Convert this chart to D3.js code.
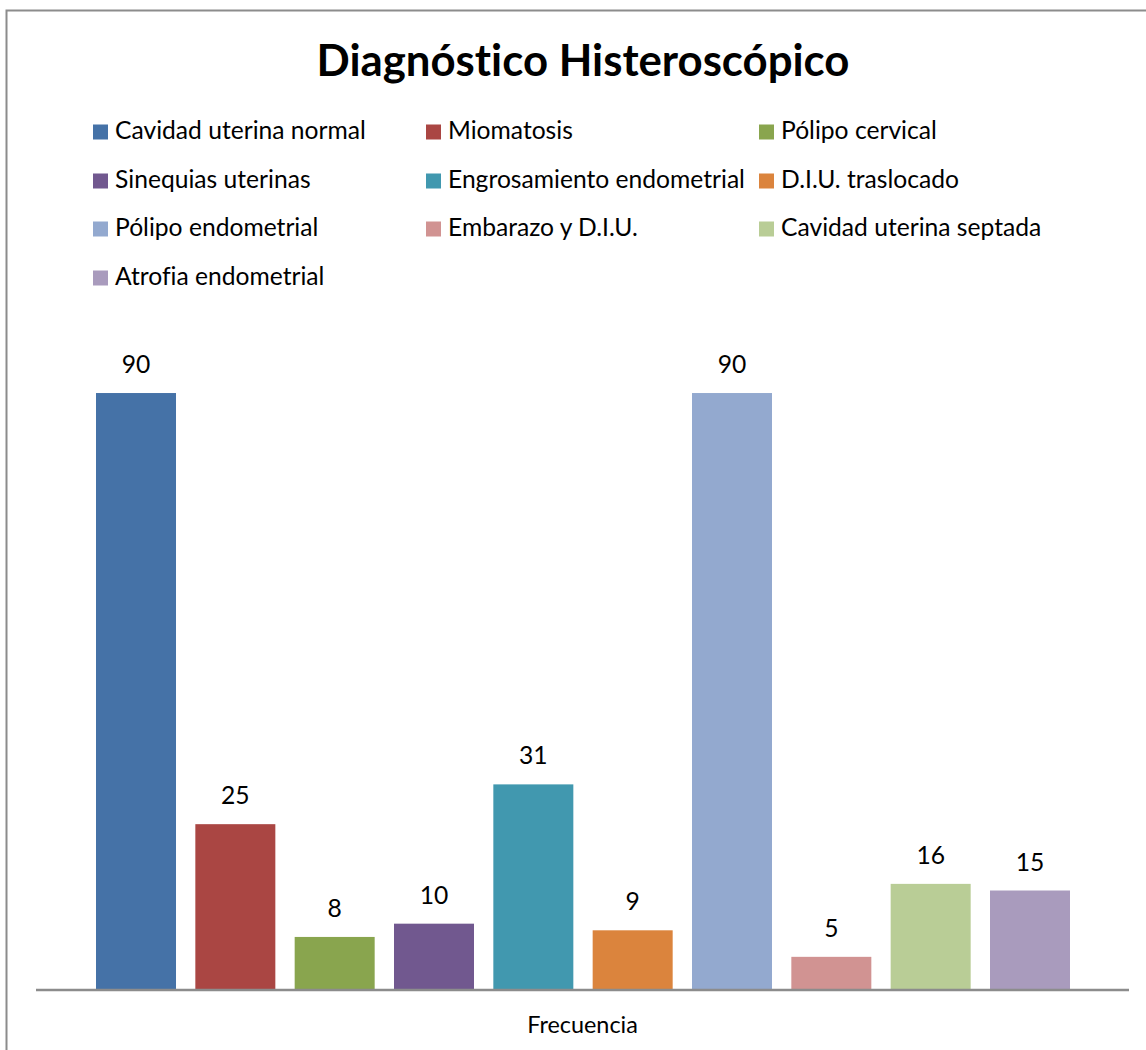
<!DOCTYPE html>
<html><head><meta charset="utf-8">
<script src="https://cdn.jsdelivr.net/npm/d3@7"></script>
<style>body{margin:0;background:#fff}svg{display:block}text{font-family:Lato,"Open Sans",sans-serif;fill:#000;font-variant-ligatures:none}</style>
</head><body>
<script>
const title = "Diagnóstico Histeroscópico";
const categoryLabel = "Frecuencia";
const seriesNames = ["Cavidad uterina normal","Miomatosis","Pólipo cervical","Sinequias uterinas","Engrosamiento endometrial","D.I.U. traslocado","Pólipo endometrial","Embarazo y D.I.U.","Cavidad uterina septada","Atrofia endometrial"];
const seriesValues = [90,25,8,10,31,9,90,5,16,15];
const seriesColors = ["#4572A7","#AA4643","#89A54E","#71588F","#4198AF","#DB843D","#93A9CF","#D19392","#B9CD96","#A99BBD"];

const W = 1146, H = 1050;
const svg = d3.select("body").append("svg").attr("width", W).attr("height", H);

// outer chart border
svg.append("rect").attr("x", 6.5).attr("y", 10.5).attr("width", W + 10).attr("height", H + 10)
  .attr("fill", "#fff").attr("stroke", "#8c8c8c").attr("stroke-width", 2);

function fitText(sel, targetWidth, baseSize) {
  const node = sel.node();
  const w = node.getComputedTextLength();
  if (w > 0) sel.attr("font-size", baseSize * targetWidth / w);
}

// title
const t = svg.append("text").attr("x", 583).attr("y", 76).attr("text-anchor", "middle")
  .attr("font-weight", "bold").attr("font-size", 40).text(title);
fitText(t, 533, 40);

// legend
const legCols = [93, 426, 759], legRows = [132, 181, 229, 278];
const leg = svg.append("g");
seriesNames.forEach((n, i) => {
  const cx = legCols[i % 3], cy = legRows[Math.floor(i / 3)];
  leg.append("rect").attr("x", cx).attr("y", cy - 7.5).attr("width", 15).attr("height", 15).attr("fill", seriesColors[i]);
  leg.append("text").attr("x", cx + 22).attr("y", cy + 7).attr("font-size", 20).text(n);
});
const ref = leg.selectAll("text").filter((d, i) => i === 0);
const refW = ref.node().getComputedTextLength();
const legSize = 20 * 251 / refW;
leg.selectAll("text").attr("font-size", legSize);

// scales
const x0 = d3.scaleBand().domain([categoryLabel]).range([36, 1129]);
const x1 = d3.scaleBand().domain(seriesNames).range([96, 1070]).paddingInner(19.33 / 99.33).paddingOuter(0);
const y = d3.scaleLinear().domain([0, 100]).range([990, 326.7]);

const g = svg.append("g");
g.selectAll("rect.bar").data(seriesValues).join("rect").attr("class", "bar")
  .attr("x", (d, i) => x1(seriesNames[i])).attr("width", x1.bandwidth())
  .attr("y", d => y(d)).attr("height", d => y(0) - y(d))
  .attr("fill", (d, i) => seriesColors[i]);

g.selectAll("text.val").data(seriesValues).join("text").attr("class", "val")
  .attr("x", (d, i) => x1(seriesNames[i]) + x1.bandwidth() / 2)
  .attr("y", d => y(d) - 20).attr("text-anchor", "middle").attr("font-size", legSize).text(d => d);

// category axis
const ax = svg.append("g").attr("transform", `translate(0,${y(0)})`).call(d3.axisBottom(x0).tickSize(0).tickPadding(26));
ax.select(".domain").remove();
ax.selectAll("text").attr("font-family", "Lato, sans-serif").attr("font-size", legSize * 0.95).attr("fill", "#000");
svg.append("line").attr("x1", x0.range()[0]).attr("x2", x0.range()[1]).attr("y1", y(0)).attr("y2", y(0))
  .attr("stroke", "#8c8c8c").attr("stroke-width", 2.5);
</script>
</body></html>
